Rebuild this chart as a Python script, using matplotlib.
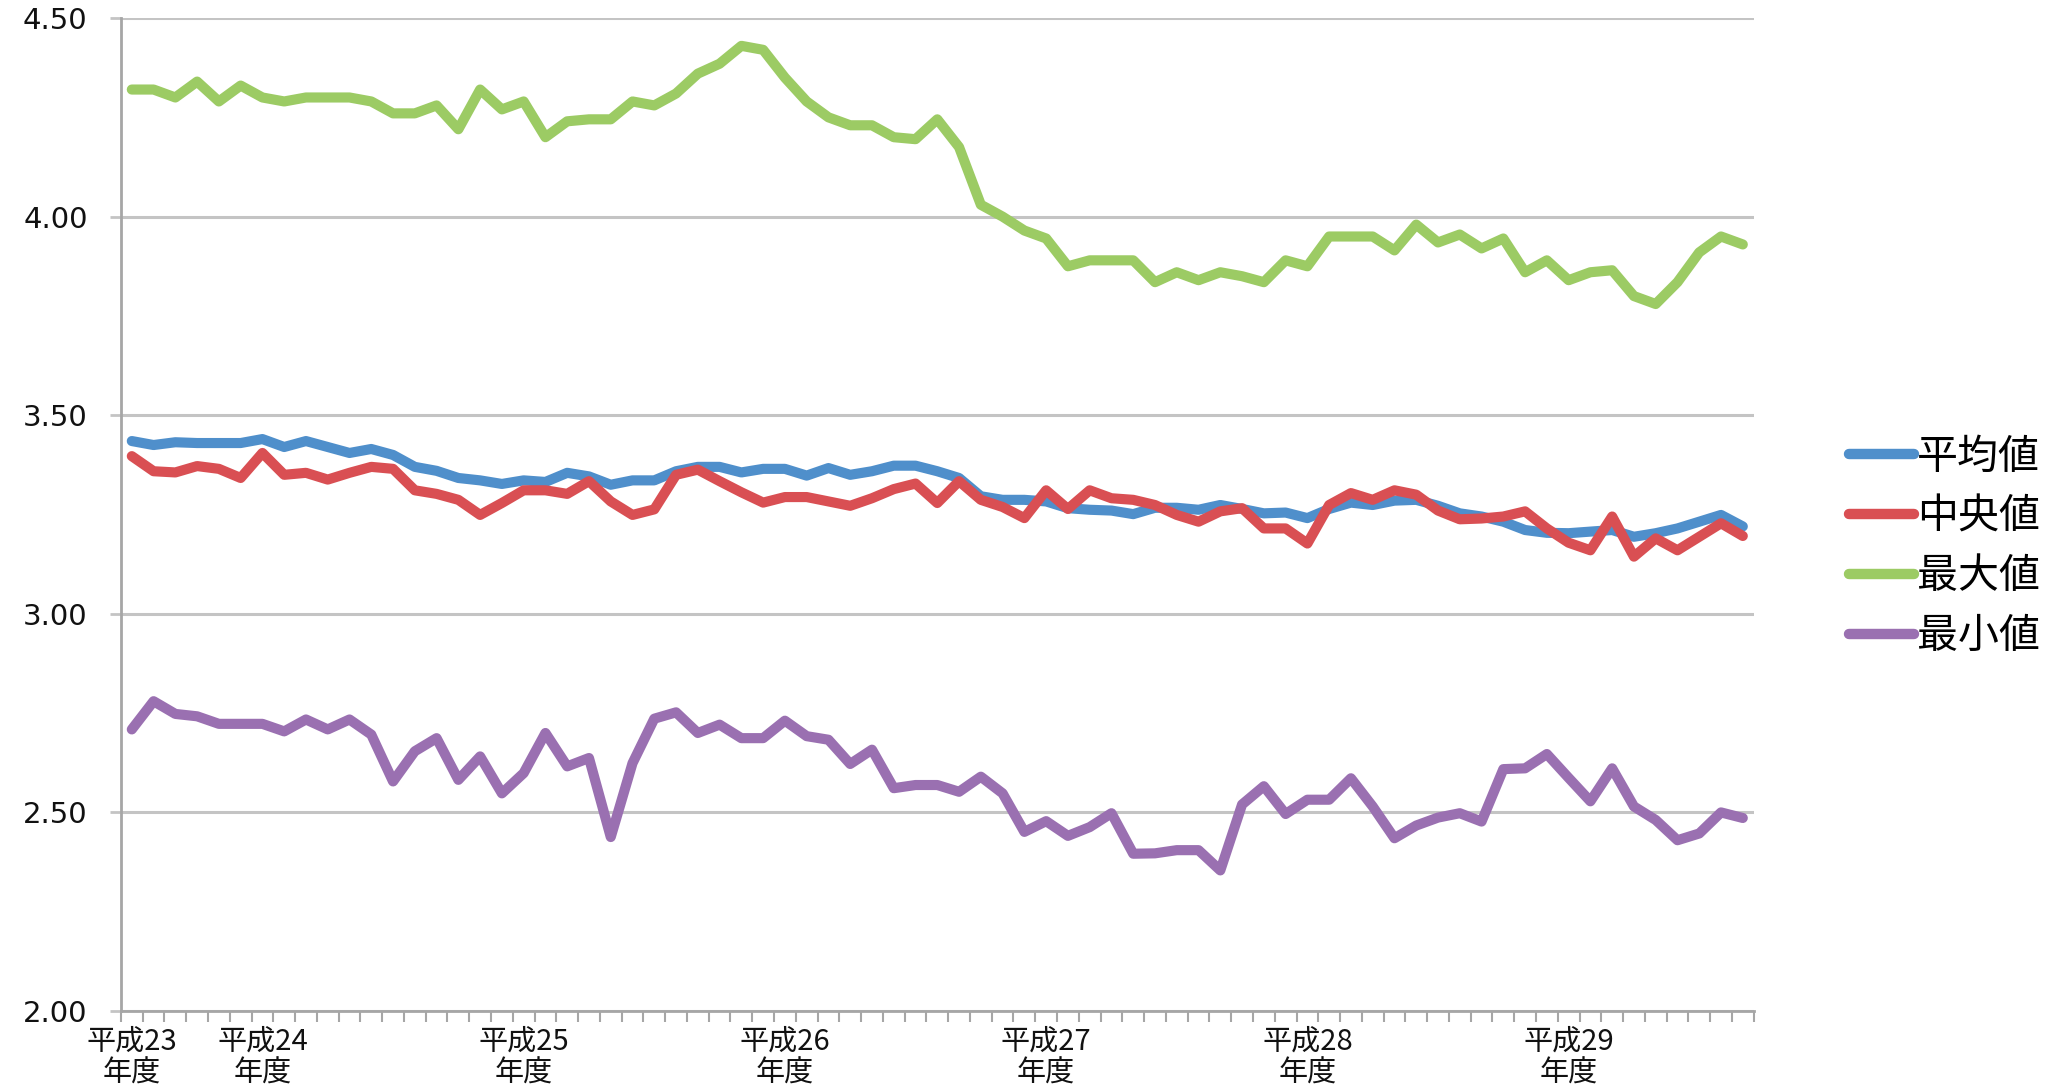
import matplotlib
matplotlib.use("Agg")
import matplotlib.pyplot as plt
from matplotlib.ticker import FixedLocator, NullFormatter, FixedFormatter

plt.rcParams['font.family'] = ['Noto Sans CJK JP', 'DejaVu Sans']

series_names = ["平均値", "中央値", "最大値", "最小値"]
colors = ["#4F8FCB", "#D94F53", "#9CCB64", "#9A70B1"]

mean_vals = [3.435, 3.425, 3.432, 3.43, 3.43, 3.43, 3.44, 3.42, 3.435, 3.42,
             3.405, 3.415, 3.40, 3.37, 3.36, 3.342, 3.336, 3.327, 3.336, 3.332,
             3.355, 3.346, 3.325, 3.336, 3.336, 3.359, 3.37, 3.37, 3.356, 3.365,
             3.365, 3.348, 3.367, 3.35, 3.359, 3.373, 3.373, 3.359, 3.342, 3.296,
             3.287, 3.287, 3.283, 3.266, 3.262, 3.26, 3.251, 3.267, 3.267, 3.262,
             3.274, 3.264, 3.253, 3.255, 3.241, 3.264, 3.28, 3.274, 3.285, 3.287,
             3.272, 3.253, 3.245, 3.232, 3.211, 3.204, 3.203, 3.207, 3.211, 3.194,
             3.203, 3.215, 3.232, 3.249, 3.22]

median_vals = [3.397, 3.359, 3.356, 3.372, 3.365, 3.342, 3.405, 3.35, 3.355, 3.338,
               3.355, 3.37, 3.365, 3.311, 3.302, 3.287, 3.249, 3.279, 3.311, 3.311,
               3.302, 3.334, 3.283, 3.249, 3.263, 3.35, 3.363, 3.334, 3.306, 3.28,
               3.294, 3.294, 3.283, 3.272, 3.291, 3.314, 3.328, 3.279, 3.334, 3.287,
               3.269, 3.241, 3.311, 3.264, 3.311, 3.291, 3.287, 3.274, 3.249, 3.232,
               3.258, 3.266, 3.215, 3.215, 3.177, 3.274, 3.304, 3.287, 3.311, 3.30,
               3.26, 3.238, 3.24, 3.245, 3.258, 3.215, 3.179, 3.16, 3.245, 3.144,
               3.19, 3.16, 3.194, 3.228, 3.196]

max_vals = [4.32, 4.32, 4.30, 4.34, 4.29, 4.33, 4.30, 4.29, 4.30, 4.30,
            4.30, 4.29, 4.26, 4.26, 4.28, 4.22, 4.32, 4.27, 4.29, 4.20,
            4.24, 4.245, 4.245, 4.29, 4.28, 4.31, 4.36, 4.385, 4.43, 4.42,
            4.35, 4.29, 4.25, 4.23, 4.23, 4.20, 4.195, 4.245, 4.175, 4.03,
            4.00, 3.965, 3.945, 3.875, 3.89, 3.89, 3.89, 3.835, 3.86, 3.84,
            3.86, 3.85, 3.835, 3.89, 3.875, 3.95, 3.95, 3.95, 3.915, 3.98,
            3.935, 3.955, 3.92, 3.945, 3.86, 3.89, 3.84, 3.86, 3.865, 3.80,
            3.78, 3.835, 3.91, 3.95, 3.93]

min_vals = [2.709, 2.78, 2.748, 2.742, 2.723, 2.723, 2.723, 2.704, 2.734, 2.709,
            2.734, 2.696, 2.578, 2.654, 2.687, 2.582, 2.641, 2.548, 2.599, 2.70,
            2.616, 2.637, 2.438, 2.624, 2.736, 2.752, 2.70, 2.721, 2.687, 2.687,
            2.731, 2.692, 2.683, 2.622, 2.658, 2.561, 2.569, 2.569, 2.552, 2.590,
            2.548, 2.451, 2.478, 2.441, 2.463, 2.498, 2.396, 2.397, 2.405, 2.405,
            2.354, 2.52, 2.566, 2.496, 2.532, 2.532, 2.586, 2.515, 2.435, 2.467,
            2.487, 2.498, 2.477, 2.609, 2.611, 2.647, 2.587, 2.528, 2.611, 2.515,
            2.481, 2.43, 2.447, 2.50, 2.486]

year_labels = ["平成23\n年度", "平成24\n年度", "平成25\n年度", "平成26\n年度",
               "平成27\n年度", "平成28\n年度", "平成29\n年度"]
year_start_index = [0, 6, 18, 30, 42, 54, 66]

y_ticks = [2.00, 2.50, 3.00, 3.50, 4.00, 4.50]

all_series = [mean_vals, median_vals, max_vals, min_vals]
n = len(mean_vals)
x = list(range(n))

fig = plt.figure(figsize=(20.53, 10.87), dpi=100)
ax = fig.add_axes([0.0589, 0.0699, 0.7953, 0.9135])

grid_color = "#C4C4C4"
axis_color = "#A6A6A6"

for vals, name, col in zip(all_series, series_names, colors):
    ax.plot(x, vals, color=col, lw=7.3, label=name,
            solid_joinstyle='round', solid_capstyle='round', zorder=3)

ax.set_xlim(-0.5, n - 0.5)
ax.set_ylim(2.0, 4.5)

ax.set_yticks(y_ticks)
ax.set_yticklabels([f"{v:.2f}" for v in y_ticks], family=['DejaVu Sans'])
ax.yaxis.grid(True, color=grid_color, lw=2.2, zorder=0)
ax.set_axisbelow(True)

# category boundary ticks
ax.xaxis.set_major_locator(FixedLocator([i - 0.5 for i in range(n + 1)]))
ax.xaxis.set_major_formatter(NullFormatter())
ax.xaxis.set_minor_locator(FixedLocator(year_start_index))
ax.xaxis.set_minor_formatter(FixedFormatter(year_labels))

ax.tick_params(axis='x', which='major', direction='out', length=8, width=1.5,
               color=axis_color)
ax.tick_params(axis='x', which='minor', length=0, pad=11, labelsize=21,
               labelcolor="#111111")
ax.tick_params(axis='y', which='major', direction='out', length=8, width=2,
               color=grid_color, pad=16, labelsize=21, labelcolor="#111111")
for lab in ax.xaxis.get_minorticklabels():
    lab.set_linespacing(1.1)

for s in ['top', 'right']:
    ax.spines[s].set_visible(False)
for s in ['left', 'bottom']:
    ax.spines[s].set_color(axis_color)
    ax.spines[s].set_linewidth(2)

leg = fig.legend(loc='center left', bbox_to_anchor=(0.9005, 0.497),
                 frameon=False, fontsize=29.5, handlelength=1.6,
                 handletextpad=0.06, labelspacing=0.46, borderaxespad=0,
                 borderpad=0)
for h in leg.get_lines():
    h.set_linewidth(7.5)
    h.set_solid_capstyle('round')

fig.savefig("out.png", dpi=100)
